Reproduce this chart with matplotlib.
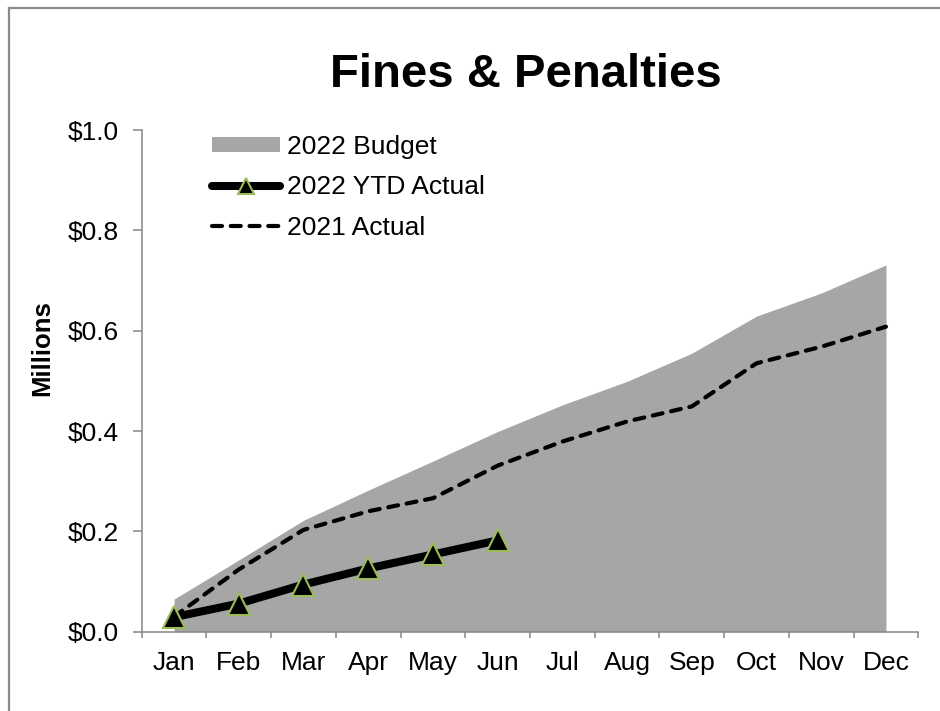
import matplotlib
matplotlib.use("Agg")
import matplotlib.pyplot as plt
from matplotlib.lines import Line2D

plt.rcParams["font.family"] = ["Liberation Sans", "DejaVu Sans"]

months = ["Jan", "Feb", "Mar", "Apr", "May", "Jun",
          "Jul", "Aug", "Sep", "Oct", "Nov", "Dec"]
budget_2022 = [0.065, 0.143, 0.222, 0.282, 0.340, 0.399,
               0.452, 0.499, 0.555, 0.629, 0.675, 0.731]
ytd_2022 = [0.029, 0.056, 0.094, 0.126, 0.154, 0.182]
actual_2021 = [0.030, 0.124, 0.203, 0.240, 0.266, 0.331,
               0.379, 0.419, 0.449, 0.535, 0.568, 0.608]
y_ticks = [0.0, 0.2, 0.4, 0.6, 0.8, 1.0]

W, H = 940, 711
fig = plt.figure(figsize=(W / 100, H / 100), dpi=100)
ax = fig.add_axes([141.7 / W, 1 - 631.7 / H, (918.3 - 141.7) / W, (631.7 - 130) / H])

x = list(range(len(months)))
ax.fill_between(x, budget_2022, color="#A6A6A6", lw=0, label="2022 Budget", zorder=1)
ax.plot(range(len(ytd_2022)), ytd_2022, color="black", lw=5.8, marker="^",
        ms=16, mfc="black", mec="#9BBB59", mew=1.5, label="2022 YTD Actual",
        zorder=3, solid_capstyle="round")
ax.plot(x, actual_2021, color="black", lw=3, dashes=(2.4, 2.1),
        dash_capstyle="round", label="2021 Actual", zorder=2)

ax.set_xlim(-0.5, len(months) - 0.5)
ax.set_ylim(0, 1.0)
ax.set_yticks(y_ticks)
ax.set_yticklabels([f"${v:.1f}" for v in y_ticks])
ax.set_xticks(x)
ax.set_xticklabels(months)
ax.set_xticks([i - 0.5 for i in range(len(months) + 1)], minor=True)

gray = "#868686"
for side in ["top", "right"]:
    ax.spines[side].set_visible(False)
for side in ["left", "bottom"]:
    ax.spines[side].set_color(gray)
    ax.spines[side].set_linewidth(1.1)

ax.tick_params(axis="y", length=6.7, width=1.1, color=gray, labelsize=19, pad=10)
ax.tick_params(axis="x", which="major", length=0, labelsize=19, pad=14)
ax.tick_params(axis="x", which="minor", length=4.5, width=1.1, color=gray)

fig.text(526 / W, 1 - 86.7 / H, "Fines & Penalties", ha="center", va="baseline",
         fontsize=34, fontweight="bold")
fig.text(42 / W, 1 - 348 / H, "Millions", rotation=90, ha="center", va="center",
         fontsize=18.5, fontweight="bold")

ax.legend(loc="upper left", bbox_to_anchor=(211.7 / W, 1 - 135 / H),
          bbox_transform=fig.transFigure, frameon=False, fontsize=19,
          borderpad=0, borderaxespad=0, handlelength=2.6, handletextpad=0.25,
          labelspacing=0.62, handleheight=0.5, markerscale=0.7)

# outer chart border (left and top edges visible)
fig.add_artist(Line2D([9 / W, 9 / W], [0, 1 - 7.5 / H], color="#8C8C8C", lw=1.6))
fig.add_artist(Line2D([9 / W, 1], [1 - 7.5 / H, 1 - 7.5 / H], color="#8C8C8C", lw=1.6))

fig.savefig("out.png", dpi=100)
